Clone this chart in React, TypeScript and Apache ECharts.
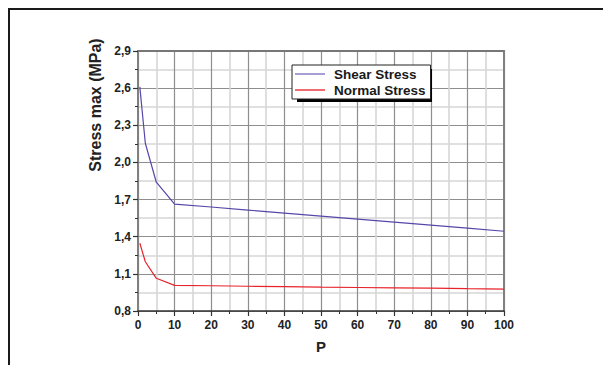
import React, { useEffect, useRef } from "react";
import * as echarts from "echarts";

const pValues = [0.5, 2, 5, 10, 20, 30, 40, 50, 60, 70, 80, 90, 100];
const shearStress = [2.61, 2.155, 1.84, 1.664, 1.64, 1.615, 1.591, 1.567, 1.542, 1.518, 1.493, 1.469, 1.444];
const normalStress = [1.347, 1.198, 1.064, 1.007, 1.004, 1.0, 0.997, 0.993, 0.99, 0.987, 0.984, 0.98, 0.977];
const seriesNames = ["Shear Stress", "Normal Stress"];
const yMin = 0.8;
const yMax = 2.9;
const yStep = 0.3;

const FONT = "'Liberation Sans', Arial, Helvetica, sans-serif";

export default function App() {
  const ref = useRef<HTMLDivElement>(null);
  useEffect(() => {
    if (!ref.current) return;
    const chart = echarts.init(ref.current, null, { renderer: "svg" });
    const toPts = (vals: number[]) => pValues.map((p, i) => [p, vals[i] - yMin]);
    const fmtY = (v: number) => (v + yMin).toFixed(1).replace(".", ",");
    chart.setOption({
      animation: false,
      backgroundColor: "#ffffff",
      grid: { left: 138, top: 51, width: 366, height: 260, containLabel: false },
      xAxis: [
        {
          type: "value",
          min: 0,
          max: 100,
          interval: 10,
          name: "P",
          nameLocation: "middle",
          nameGap: 28,
          nameTextStyle: { fontFamily: FONT, fontWeight: "bold", fontSize: 15, color: "#222" },
          axisLine: { show: true, onZero: false, lineStyle: { color: "#333", width: 1.5 } },
          axisTick: { show: true, length: 5, lineStyle: { color: "#333", width: 1.2 } },
          minorTick: { show: true, splitNumber: 2, length: 3, lineStyle: { color: "#333", width: 1 } },
          axisLabel: { fontFamily: FONT, fontWeight: "bold", fontSize: 12, color: "#222", margin: 8 },
          splitLine: { show: true, lineStyle: { color: "#8e8e8e", width: 1.2 } },
          minorSplitLine: { show: true, lineStyle: { color: "#d6d6d6", width: 1.6 } },
        },
        {
          type: "value",
          position: "top",
          min: 0,
          max: 100,
          axisLine: { show: true, onZero: false, lineStyle: { color: "#777", width: 2 } },
          axisTick: { show: false },
          axisLabel: { show: false },
          splitLine: { show: false },
        },
      ],
      yAxis: [
        {
          type: "value",
          min: 0,
          max: yMax - yMin,
          interval: yStep,
          axisLine: { show: true, onZero: false, lineStyle: { color: "#808080", width: 2 } },
          axisTick: { show: true, length: 5, lineStyle: { color: "#333", width: 1.2 } },
          minorTick: { show: true, splitNumber: 2, length: 3, lineStyle: { color: "#333", width: 1 } },
          axisLabel: { fontFamily: FONT, fontWeight: "bold", fontSize: 12, color: "#222", margin: 7, formatter: fmtY },
          splitLine: { show: true, lineStyle: { color: "#8e8e8e", width: 1.2 } },
          minorSplitLine: { show: true, lineStyle: { color: "#d6d6d6", width: 1.6 } },
        },
        {
          type: "value",
          position: "right",
          min: 0,
          max: yMax - yMin,
          axisLine: { show: true, onZero: false, lineStyle: { color: "#808080", width: 2 } },
          axisTick: { show: false },
          axisLabel: { show: false },
          splitLine: { show: false },
        },
      ],
      legend: {
        data: [
          { name: seriesNames[0], itemStyle: { color: "#8a80c8" } },
          { name: seriesNames[1], itemStyle: { color: "#ec3a3f" } },
        ],
        orient: "vertical",
        left: 292,
        top: 65,
        padding: [2, 5, 2, 3],
        icon: "rect",
        itemWidth: 30,
        itemHeight: 1.5,
        itemGap: 2,
        backgroundColor: "#ffffff",
        borderColor: "#222",
        borderWidth: 1,
        z: 6,
        textStyle: { fontFamily: FONT, fontWeight: "bold", fontSize: 13.5, color: "#1a1a1a", padding: [0, 0, 0, 4], lineHeight: 14, height: 14 },
      },
      graphic: [
        {
          type: "rect",
          z: 8,
          shape: { x: 590, y: 0, width: 20, height: 400 },
          style: { fill: "#ffffff" },
        },
        {
          type: "line",
          z: 9,
          shape: { x1: 9, y1: 9, x2: 700, y2: 9 },
          style: { stroke: "#1a1a1a", lineWidth: 2 },
        },
        {
          type: "line",
          z: 9,
          shape: { x1: 9, y1: 8, x2: 9, y2: 400 },
          style: { stroke: "#1a1a1a", lineWidth: 2 },
        },
        {
          type: "rect",
          z: 5,
          shape: { x: 297, y: 69, width: 135, height: 33 },
          style: { fill: "#000000" },
        },
        {
          type: "text",
          z: 5,
          x: 95,
          y: 105,
          rotation: Math.PI / 2,
          style: {
            text: "Stress max (MPa)",
            fontFamily: FONT,
            fontWeight: "bold",
            fontSize: 16,
            fill: "#222",
            align: "center",
            verticalAlign: "middle",
          },
        },
      ],
      series: [
        {
          name: seriesNames[0],
          type: "line",
          data: toPts(shearStress),
          symbol: "none",
          lineStyle: { color: "#5647a8", width: 1.2 },
          itemStyle: { color: "#5647a8" },
          z: 3,
        },
        {
          name: seriesNames[1],
          type: "line",
          data: toPts(normalStress),
          symbol: "none",
          lineStyle: { color: "#e8232a", width: 1.2 },
          itemStyle: { color: "#e8232a" },
          z: 3,
        },
      ],
    });
    return () => chart.dispose();
  }, []);
  return (
    <div
      ref={ref}
      style={{ position: "fixed", left: 0, top: 0, width: 603, height: 365, background: "#fff" }}
    />
  );
}
